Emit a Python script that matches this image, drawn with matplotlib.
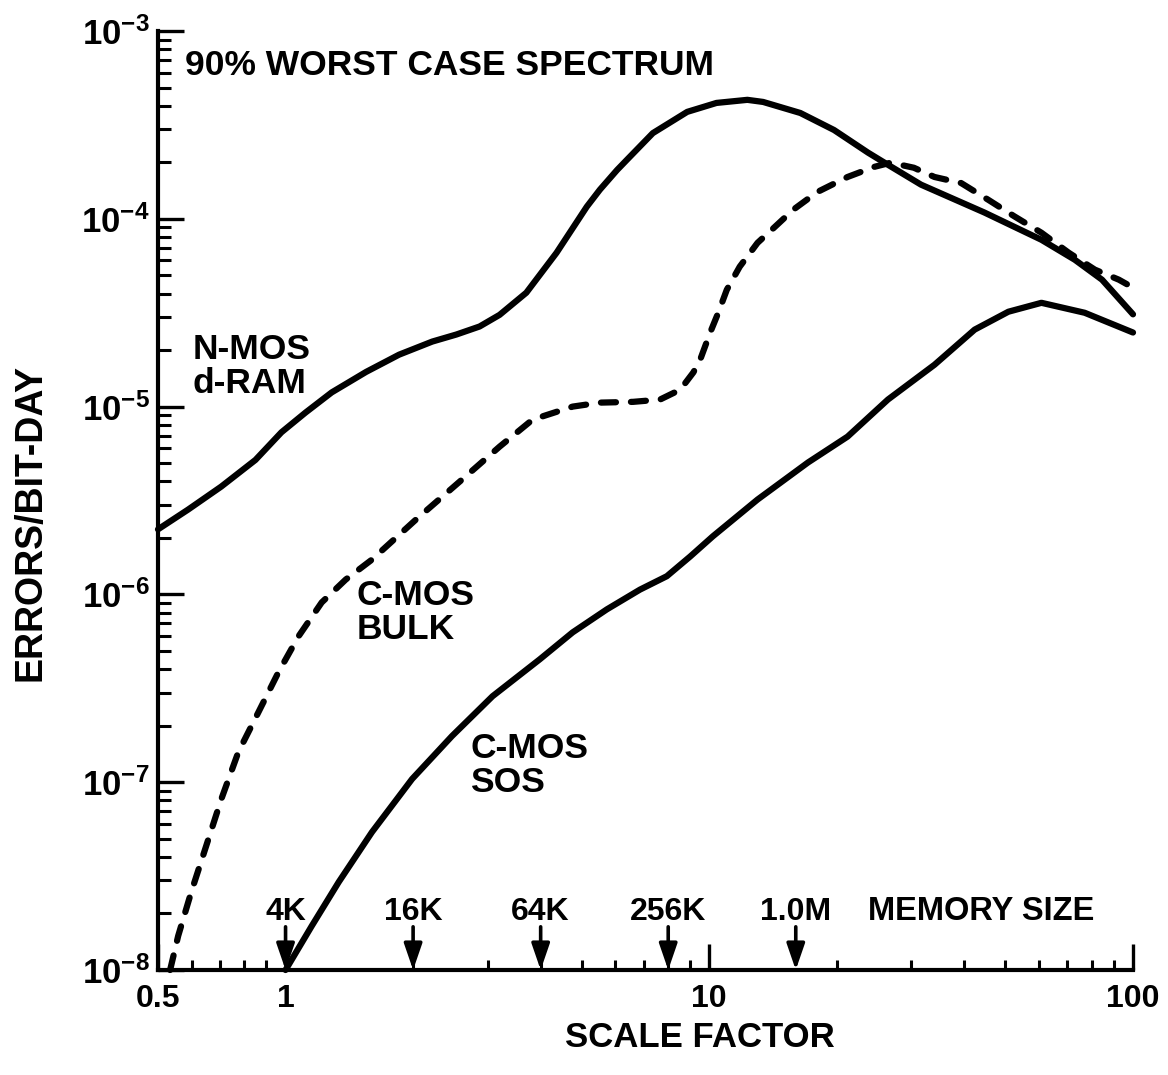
import matplotlib
matplotlib.use('Agg')
import matplotlib.pyplot as plt
from matplotlib.ticker import LogLocator, NullFormatter, FixedLocator

plt.rcParams['font.family'] = ['Liberation Sans', 'DejaVu Sans']
plt.rcParams['font.weight'] = 'bold'
plt.rcParams['mathtext.fontset'] = 'custom'
plt.rcParams['mathtext.rm'] = 'Liberation Sans:bold'
plt.rcParams['mathtext.bf'] = 'Liberation Sans:bold'
plt.rcParams['mathtext.it'] = 'Liberation Sans:bold'

# ---- data ----
nmos_x = [0.5, 0.589, 0.705, 0.849, 0.978, 1.115, 1.285, 1.549, 1.853, 2.22, 2.53, 2.87,
          3.20, 3.70, 4.36, 5.14, 5.52, 6.06, 6.39, 7.36, 8.87, 10.4, 12.3, 13.4, 16.4,
          19.7, 23.7, 26.4, 31.6, 44.6, 60.8, 72.9, 84.5, 100]
nmos_y = [2.22e-6, 2.83e-6, 3.75e-6, 5.2e-6, 7.3e-6, 9.3e-6, 1.19e-5, 1.53e-5, 1.89e-5,
          2.22e-5, 2.42e-5, 2.67e-5, 3.08e-5, 4.04e-5, 6.59e-5, 1.16e-4, 1.43e-4, 1.82e-4,
          2.06e-4, 2.86e-4, 3.71e-4, 4.14e-4, 4.30e-4, 4.19e-4, 3.66e-4, 2.97e-4, 2.25e-4,
          1.94e-4, 1.52e-4, 1.08e-4, 7.73e-5, 6.05e-5, 4.74e-5, 3.1e-5]

bulk_x = [0.534, 0.558, 0.599, 0.646, 0.705, 0.774, 0.863, 0.962, 1.073, 1.217, 1.387,
          1.598, 2.03, 2.61, 3.20, 3.83, 4.76, 5.52, 6.61, 7.65, 8.54, 9.17, 9.52, 10.05,
          10.5, 11.0, 11.8, 13.0, 14.2, 15.8, 18.0, 21.2, 24.5, 26.8, 30.4, 34.0, 39.3,
          45.6, 52.5, 60.8, 70.5, 81.3, 92.6, 100]
bulk_y = [1e-8, 1.52e-8, 2.6e-8, 4.4e-8, 8.1e-8, 1.45e-7, 2.36e-7, 3.85e-7, 5.98e-7,
          9.06e-7, 1.2e-6, 1.53e-6, 2.5e-6, 4.09e-6, 6.12e-6, 8.53e-6, 1.0e-5, 1.05e-5,
          1.06e-5, 1.09e-5, 1.23e-5, 1.52e-5, 1.78e-5, 2.48e-5, 3.16e-5, 4.19e-5, 5.56e-5,
          7.45e-5, 8.95e-5, 1.12e-4, 1.39e-4, 1.67e-4, 1.89e-4, 1.99e-4, 1.87e-4, 1.67e-4,
          1.55e-4, 1.26e-4, 1.03e-4, 8.43e-5, 6.6e-5, 5.36e-5, 4.74e-5, 4.3e-5]

sos_x = [1.0, 1.152, 1.335, 1.599, 1.989, 2.47, 3.08, 3.98, 4.76, 5.73, 6.86, 7.94, 9.01,
         10.2, 13.0, 17.1, 21.2, 26.4, 34.0, 42.3, 50.8, 60.8, 76.9, 100]
sos_y = [1e-8, 1.71e-8, 2.94e-8, 5.42e-8, 1.04e-7, 1.76e-7, 2.87e-7, 4.51e-7, 6.28e-7,
         8.32e-7, 1.06e-6, 1.25e-6, 1.59e-6, 2.04e-6, 3.2e-6, 5.04e-6, 6.92e-6, 1.09e-5,
         1.67e-5, 2.57e-5, 3.2e-5, 3.57e-5, 3.16e-5, 2.48e-5]

memory_labels = ['4K', '16K', '64K', '256K', '1.0M']
memory_scale = [1, 2, 4, 8, 16]

x_ticks = [0.5, 1, 10, 100]
x_tick_labels = ['0.5', '1', '10', '100']
y_ticks = [1e-8, 1e-7, 1e-6, 1e-5, 1e-4, 1e-3]
y_tick_labels = [r'$\mathbf{10^{-8}}$', r'$\mathbf{10^{-7}}$', r'$\mathbf{10^{-6}}$',
                 r'$\mathbf{10^{-5}}$', r'$\mathbf{10^{-4}}$', r'$\mathbf{10^{-3}}$']

# ---- figure ----
fig = plt.figure(figsize=(11.68, 10.75), dpi=100)
ax = fig.add_axes([158/1168, 1 - 970/1075, (1133-158)/1168, (970-31)/1075])
ax.set_xscale('log')
ax.set_yscale('log')
ax.set_xlim(0.5, 100)
ax.set_ylim(1e-8, 1e-3)

lw = 4.5
ax.plot(nmos_x, nmos_y, color='black', lw=lw, solid_capstyle='round',
        solid_joinstyle='round', clip_on=False)
ax.plot(sos_x, sos_y, color='black', lw=lw, solid_capstyle='round',
        solid_joinstyle='round', clip_on=False)
ax.plot(bulk_x, bulk_y, color='black', lw=lw, dashes=(2.4, 2.4),
        dash_capstyle='round', dash_joinstyle='round', clip_on=False)

for s in ['top', 'right']:
    ax.spines[s].set_visible(False)
for s in ['left', 'bottom']:
    ax.spines[s].set_linewidth(3.0)

ax.xaxis.set_major_locator(FixedLocator(x_ticks))
ax.set_xticklabels(x_tick_labels)
ax.xaxis.set_minor_locator(LogLocator(base=10, subs=range(2, 10)))
ax.xaxis.set_minor_formatter(NullFormatter())
ax.yaxis.set_major_locator(FixedLocator(y_ticks))
ax.set_yticklabels(y_tick_labels)
ax.yaxis.set_minor_locator(LogLocator(base=10, subs=range(2, 10)))
ax.yaxis.set_minor_formatter(NullFormatter())

ax.tick_params(axis='both', which='major', direction='in', length=19, width=2.4)
ax.tick_params(axis='x', which='minor', direction='in', length=7.5, width=2.2)
ax.tick_params(axis='y', which='minor', direction='in', length=9.5, width=2.2)
ax.tick_params(axis='x', which='major', labelsize=23, pad=10)
ax.tick_params(axis='y', which='major', labelsize=25, pad=6)
for t in ax.get_xticklabels():
    t.set_fontweight('bold')

ax.set_xlabel('SCALE FACTOR', fontsize=25, fontweight='bold', va='center')
ax.xaxis.set_label_coords((700-158)/975, -0.072)
ax.set_ylabel('ERRORS/BIT-DAY', fontsize=27, fontweight='bold', va='center')
ax.yaxis.set_label_coords(-0.131, 0.477)

tkw = dict(transform=ax.transAxes, fontsize=25.5, fontweight='bold', va='center',
           ha='left', linespacing=1.05)
ax.text(0.028, 0.963, '90% WORST CASE SPECTRUM', **tkw)
ax.text(0.035, 0.643, 'N-MOS\nd-RAM', **tkw)
ax.text(0.204, 0.381, 'C-MOS\nBULK', **tkw)
ax.text(0.320, 0.218, 'C-MOS\nSOS', **tkw)

# memory size arrows
for lab, xs in zip(memory_labels, memory_scale):
    ax.annotate('', xy=(xs, 1e-8), xycoords='data',
                xytext=(xs, 0.046), textcoords=('data', 'axes fraction'),
                arrowprops=dict(arrowstyle='-|>,head_length=1.6,head_width=0.55',
                                color='black', lw=2.6, shrinkA=0, shrinkB=0),
                annotation_clip=False)
    ax.text(xs, 0.062, lab, transform=ax.get_xaxis_transform(), fontsize=23,
            fontweight='bold', ha='center', va='center')
ax.text(0.728, 0.062, 'MEMORY SIZE', transform=ax.transAxes, fontsize=23.5,
        fontweight='bold', ha='left', va='center')

fig.savefig('out.png', dpi=100)
